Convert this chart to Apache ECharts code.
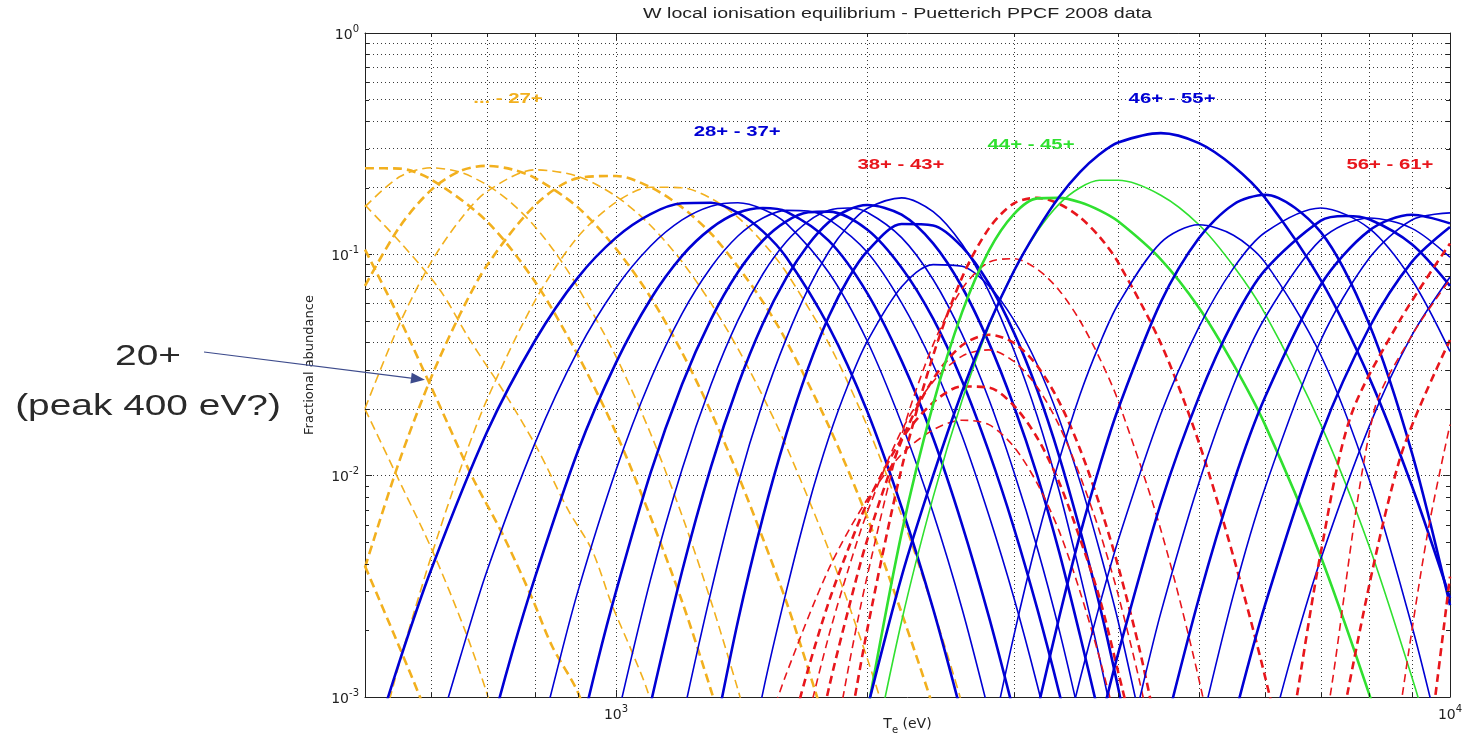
<!DOCTYPE html>
<html>
<head>
<meta charset="utf-8">
<title>W local ionisation equilibrium</title>
<script src="https://cdn.jsdelivr.net/npm/echarts@6.0.0/dist/echarts.min.js"></script>
<style>
html, body { margin: 0; padding: 0; background: #ffffff; }
#chart { width: 1463px; height: 741px; }
</style>
</head>
<body>
<div id="chart"></div>
<script>
// Axis ranges: electron temperature (eV) and fractional abundance
const TE_RANGE = [500, 10000];
const AB_RANGE = [0.001, 1];

// Dotted grid (major + minor decades)
const xGridValues = [600, 700, 800, 900, 1000, 2000, 3000, 4000, 5000, 6000, 7000, 8000, 9000];
const yGridValues = [0.002, 0.003, 0.004, 0.005, 0.006, 0.007, 0.008, 0.009, 0.01,
  0.02, 0.03, 0.04, 0.05, 0.06, 0.07, 0.08, 0.09, 0.1,
  0.2, 0.3, 0.4, 0.5, 0.6, 0.7, 0.8, 0.9];
const xMinorTicks = [600, 700, 800, 900, 2000, 3000, 4000, 5000, 6000, 7000, 8000, 9000];
const yMinorTicks = [0.002, 0.003, 0.004, 0.005, 0.006, 0.007, 0.008, 0.009,
  0.02, 0.03, 0.04, 0.05, 0.06, 0.07, 0.08, 0.09,
  0.2, 0.3, 0.4, 0.5, 0.6, 0.7, 0.8, 0.9];

// Fractional abundance of each W ion charge state: [Te (eV), abundance]
const w18 = [[500,0.0039],[582,0.001],[600,0.0007]];
const w19 = [[500,0.02],[554,0.0089],[602,0.0046],[659,0.002],[700,0.00104],[720,0.0007]];
const w20 = [[500,0.105],[551,0.0506],[610,0.022],[672,0.0099],[730,0.0055],[793,0.0028],[838,0.0017],[900,0.00105],[930,0.0007]];
const w21 = [[500,0.167],[555,0.11],[615,0.069],[668,0.041],[740,0.0227],[806,0.0131],[876,0.007],[936,0.0046],[989,0.0026],[1045,0.0016],[1092,0.00105],[1120,0.0007]];
const w22 = [[500,0.245],[550,0.244],[600,0.218],[700,0.141],[800,0.075],[900,0.035],[1000,0.0156],[1100,0.0065],[1200,0.0027],[1300,0.00107],[1400,0.00042]];
const w23 = [[500,0.164],[550,0.224],[600,0.246],[650,0.235],[700,0.206],[750,0.17],[800,0.133],[850,0.099],[900,0.071],[1000,0.0345],[1100,0.0155],[1200,0.0066],[1300,0.0027],[1400,0.00108],[1500,0.00043]];
const w24 = [[500,0.072],[550,0.133],[600,0.195],[650,0.238],[700,0.251],[750,0.242],[800,0.221],[900,0.163],[1000,0.106],[1100,0.064],[1200,0.036],[1300,0.0194],[1400,0.0101],[1500,0.0052],[1600,0.0027],[1700,0.00134],[1800,0.00067]];
const w25 = [[500,0.0201],[550,0.0485],[600,0.092],[650,0.143],[700,0.192],[800,0.241],[900,0.225],[1000,0.183],[1100,0.135],[1200,0.0925],[1300,0.06],[1400,0.0375],[1500,0.0228],[1600,0.0136],[1800,0.0046],[2000,0.0015],[2200,0.00048]];
const w26 = [[500,0.00385],[550,0.0117],[600,0.0277],[650,0.0536],[700,0.089],[800,0.167],[900,0.221],[1000,0.226],[1100,0.201],[1200,0.163],[1300,0.124],[1400,0.088],[1500,0.061],[1600,0.0407],[1800,0.0167],[2000,0.0065],[2200,0.0024],[2400,0.0009],[2600,0.00033]];
const w27 = [[500,0.00036],[550,0.00143],[600,0.0043],[650,0.0106],[700,0.022],[800,0.062],[900,0.12],[1000,0.172],[1100,0.201],[1200,0.2],[1300,0.179],[1400,0.147],[1500,0.113],[1600,0.083],[1800,0.0394],[2000,0.0168],[2200,0.0066],[2400,0.0025],[2600,0.00093],[2800,0.00033]];

const w28 = [[500,0.00046],[550,0.00145],[600,0.00375],[700,0.0157],[800,0.0409],[900,0.0785],[1000,0.119],[1100,0.152],[1200,0.17],[1300,0.171],[1400,0.154],[1500,0.127],[1600,0.097],[1800,0.047],[2000,0.0196],[2200,0.0072],[2400,0.0025],[2600,0.00082]];
const w29 = [[600,0.00054],[650,0.0015],[700,0.0037],[800,0.0141],[900,0.0367],[1000,0.0706],[1100,0.109],[1200,0.143],[1300,0.165],[1400,0.171],[1500,0.16],[1600,0.138],[1800,0.0826],[2000,0.0407],[2200,0.0172],[2400,0.0068],[2600,0.0025],[2800,0.00085]];
const w30 = [[650,0.00019],[700,0.0006],[750,0.00157],[800,0.0035],[900,0.0129],[1000,0.0324],[1100,0.0627],[1200,0.0984],[1300,0.131],[1400,0.154],[1500,0.162],[1600,0.156],[1800,0.115],[2000,0.067],[2200,0.033],[2400,0.0148],[2600,0.006],[2800,0.0023],[3000,0.00085]];
const w31 = [[750,0.00018],[800,0.00053],[850,0.00133],[900,0.003],[1000,0.0106],[1100,0.0272],[1200,0.054],[1300,0.0875],[1400,0.121],[1500,0.146],[1600,0.158],[1700,0.157],[1800,0.144],[2000,0.1025],[2200,0.0604],[2400,0.0318],[2600,0.0151],[2800,0.0066],[3000,0.0028],[3200,0.00113],[3400,0.00044]];
const w32 = [[850,0.00022],[900,0.00061],[950,0.00144],[1000,0.003],[1100,0.0103],[1200,0.0259],[1300,0.051],[1400,0.083],[1500,0.1155],[1600,0.141],[1700,0.155],[1800,0.156],[2000,0.1295],[2200,0.087],[2400,0.0512],[2600,0.0268],[2800,0.0128],[3000,0.0058],[3200,0.0025],[3400,0.00104],[3600,0.00042]];
const w33 = [[950,0.00031],[1000,0.00076],[1100,0.0034],[1200,0.0107],[1300,0.0258],[1400,0.0503],[1500,0.0815],[1600,0.114],[1700,0.141],[1800,0.158],[1900,0.162],[2000,0.155],[2200,0.119],[2400,0.077],[2600,0.0435],[2800,0.0221],[3000,0.0104],[3200,0.0047],[3400,0.002],[3600,0.0008]];
const w34 = [[1050,0.00041],[1100,0.00093],[1200,0.0037],[1300,0.011],[1400,0.0256],[1500,0.0487],[1600,0.0782],[1700,0.1105],[1800,0.14],[1900,0.159],[2000,0.167],[2200,0.151],[2400,0.112],[2600,0.071],[2800,0.0398],[3000,0.0206],[3200,0.01],[3400,0.0045],[3600,0.0019],[3800,0.00081]];
const w35 = [[1150,0.00035],[1200,0.00078],[1300,0.003],[1400,0.0091],[1500,0.0215],[1600,0.0416],[1700,0.07],[1800,0.103],[1900,0.135],[2000,0.161],[2200,0.18],[2400,0.156],[2600,0.111],[2800,0.0678],[3000,0.0369],[3200,0.0185],[3400,0.0085],[3600,0.0036],[3800,0.0015],[4000,0.0006]];
const w36 = [[1300,0.00056],[1400,0.0022],[1500,0.0065],[1600,0.0154],[1700,0.0307],[1800,0.0525],[1900,0.078],[2000,0.103],[2200,0.137],[2400,0.135],[2600,0.108],[2800,0.0736],[3000,0.0443],[3200,0.0243],[3400,0.0122],[3600,0.0057],[3800,0.0026],[4000,0.0011],[4250,0.00036]];
const w37 = [[1400,0.00028],[1500,0.00105],[1600,0.003],[1700,0.0073],[1800,0.0149],[1900,0.026],[2000,0.0403],[2200,0.0714],[2400,0.0898],[2600,0.0883],[2800,0.0719],[3000,0.0504],[3200,0.0317],[3400,0.018],[3600,0.0094],[3800,0.0046],[4000,0.0022],[4250,0.00079]];

const w38 = [[1900,0.00068],[2000,0.002],[2200,0.0108],[2400,0.0349],[2600,0.0787],[2800,0.131],[3000,0.17],[3200,0.18],[3400,0.169],[3600,0.147],[3800,0.12],[4000,0.092],[4500,0.0396],[5000,0.0141],[5500,0.0043],[6000,0.00124],[6500,0.00033]];
const w39 = [[1800,0.00044],[1900,0.00136],[2000,0.0035],[2200,0.0152],[2400,0.0391],[2600,0.0699],[2800,0.0922],[3000,0.0955],[3200,0.0856],[3400,0.0687],[3600,0.0501],[3800,0.034],[4000,0.0218],[4500,0.0057],[5000,0.0012],[5500,0.00021]];
const w40 = [[1700,0.0004],[1800,0.0011],[1900,0.0025],[2000,0.0051],[2200,0.0144],[2400,0.0273],[2600,0.0388],[2800,0.0433],[3000,0.0398],[3200,0.0313],[3400,0.0215],[3600,0.0132],[3800,0.0074],[4000,0.0039],[4250,0.0016],[4500,0.00058]];
const w41 = [[1600,0.0003],[1700,0.00081],[1800,0.0019],[1900,0.0038],[2000,0.0068],[2200,0.016],[2400,0.0266],[2600,0.0347],[2800,0.037],[3000,0.0328],[3200,0.0251],[3400,0.0168],[3600,0.01],[3800,0.0056],[4000,0.0029],[4250,0.00115],[4500,0.00042]];
const w42 = [[1600,0.00058],[1700,0.00134],[1800,0.0027],[1900,0.0047],[2000,0.0075],[2200,0.0146],[2400,0.0214],[2600,0.0253],[2800,0.025],[3000,0.0207],[3200,0.0148],[3400,0.0093],[3600,0.0052],[3800,0.0028],[4000,0.0013],[4250,0.00051]];
const w43 = [[1500,0.00063],[1600,0.00127],[1800,0.0038],[2000,0.0078],[2200,0.0125],[2400,0.0161],[2600,0.0178],[2800,0.017],[3000,0.0135],[3200,0.0092],[3400,0.0056],[3600,0.003],[3800,0.0015],[4000,0.00071]];

const w44 = [[2000,0.00084],[2200,0.0055],[2400,0.021],[2600,0.0548],[2800,0.104],[3000,0.152],[3200,0.179],[3400,0.18],[3600,0.172],[3800,0.158],[4000,0.141],[4500,0.095],[5000,0.0574],[5500,0.0318],[6000,0.017],[7000,0.0043],[8000,0.00103],[8500,0.0005]];
const w45 = [[2000,0.0004],[2200,0.0022],[2400,0.008],[2600,0.0219],[2800,0.0475],[3000,0.0844],[3200,0.127],[3400,0.169],[3600,0.2],[3800,0.216],[4000,0.216],[4500,0.185],[5000,0.136],[5500,0.0885],[6000,0.054],[7000,0.017],[8000,0.0048],[9000,0.00123],[9500,0.00062]];

const w46 = [[2000,0.00088],[2200,0.0035],[2400,0.01],[2600,0.024],[2800,0.0483],[3000,0.0841],[3200,0.129],[3400,0.182],[3600,0.235],[3800,0.283],[4000,0.32],[4500,0.353],[5000,0.318],[5500,0.25],[6000,0.18],[7000,0.0765],[8000,0.0278],[9000,0.009],[10000,0.0028]];
const w47 = [[2800,0.00057],[3000,0.0019],[3200,0.0052],[3400,0.0118],[3600,0.0232],[3800,0.0393],[4000,0.0595],[4500,0.113],[5000,0.136],[5500,0.122],[6000,0.092],[7000,0.035],[8000,0.0096],[9000,0.0021],[9500,0.00094],[10000,0.00041]];
const w48 = [[3200,0.00087],[3400,0.0023],[3600,0.0054],[3800,0.011],[4000,0.02],[4500,0.0608],[5000,0.1185],[5500,0.168],[6000,0.186],[7000,0.126],[8000,0.0484],[9000,0.0127],[10000,0.0026]];
const w49 = [[3400,0.0005],[3600,0.0012],[3800,0.0026],[4000,0.0051],[4500,0.019],[5000,0.0469],[5500,0.0866],[6000,0.1255],[7000,0.162],[8000,0.131],[9000,0.0768],[10000,0.0364]];
const w50 = [[3800,0.00073],[4000,0.00157],[4500,0.0075],[5000,0.0227],[5500,0.0502],[6000,0.0848],[7000,0.142],[7500,0.149],[8000,0.144],[9000,0.111],[10000,0.072]];
const w51 = [[4000,0.00037],[4250,0.001],[4500,0.0024],[5000,0.0093],[5500,0.0256],[6000,0.0517],[7000,0.1165],[8000,0.146],[9000,0.131],[10000,0.097]];
const w52 = [[4500,0.0006],[5000,0.0028],[5500,0.0093],[6000,0.0226],[7000,0.0729],[8000,0.128],[9000,0.151],[10000,0.138]];
const w53 = [[5000,0.00067],[5500,0.0029],[6000,0.0088],[7000,0.0409],[8000,0.096],[9000,0.143],[10000,0.154]];
const w54 = [[5500,0.00078],[6000,0.0026],[7000,0.0152],[8000,0.0466],[9000,0.0925],[10000,0.133]];
const w55 = [[6000,0.00055],[6500,0.00168],[7000,0.0042],[8000,0.0167],[9000,0.043],[10000,0.079]];

const w56 = [[6300,0.0004],[6550,0.001],[7000,0.0045],[7600,0.0185],[8700,0.05],[10000,0.112]];
const w57 = [[6900,0.0004],[7180,0.001],[8100,0.0193],[9000,0.043],[10000,0.077]];
const w58 = [[7300,0.0004],[7520,0.001],[8700,0.0118],[10000,0.041]];
const w59 = [[8500,0.0004],[8760,0.001],[9400,0.0055],[10000,0.017]];
const w60 = [[9300,0.0004],[9600,0.001],[10000,0.0035]];
const w61 = [[9800,0.0004],[10000,0.0009]];

// Charge-state bands, each with its colour and line style
const ORANGE = '#f2b01e', BLUE = '#0000d4', RED = '#e8161c', GREEN = '#30e030';
const bands = [
  { first: 18, ions: [w18, w19, w20, w21, w22, w23, w24, w25, w26, w27], color: ORANGE, dash: [9, 5] },
  { first: 28, ions: [w28, w29, w30, w31, w32, w33, w34, w35, w36, w37], color: BLUE, dash: null },
  { first: 38, ions: [w38, w39, w40, w41, w42, w43], color: RED, dash: [8, 5] },
  { first: 44, ions: [w44, w45], color: GREEN, dash: null },
  { first: 46, ions: [w46, w47, w48, w49, w50, w51, w52, w53, w54, w55], color: BLUE, dash: null },
  { first: 56, ions: [w56, w57, w58, w59, w60, w61], color: RED, dash: [8, 5] }
];

// Band captions placed at [Te, abundance]
const bandLabels = [
  { text: '... - 27+', te: 742, ab: 0.504, color: ORANGE },
  { text: '28+ - 37+', te: 1397, ab: 0.357, color: BLUE },
  { text: '38+ - 43+', te: 2196, ab: 0.2535, color: RED },
  { text: '44+ - 45+', te: 3145, ab: 0.312, color: GREEN },
  { text: '46+ - 55+', te: 4642, ab: 0.504, color: BLUE },
  { text: '56+ - 61+', te: 8472, ab: 0.2535, color: RED }
];
// Point on the 20+ curve the side note refers to
const noteTarget = [590, 0.0271];

const TXT = '#222222';
const supRich = {
  b: { fontFamily: 'DejaVu Sans', fontSize: 14, color: TXT, verticalAlign: 'bottom' },
  s: { fontFamily: 'DejaVu Sans', fontSize: 10, color: TXT, verticalAlign: 'bottom', padding: [0, 0, 8, 0] }
};
function powLabel(v) {
  const e = Math.log10(v), r = Math.round(e);
  return Math.abs(e - r) < 1e-6 ? '{b|10}{s|' + r + '}' : '';
}

const series = [];
// dotted grid lines, kept underneath the curves
series.push({
  type: 'line', data: [], silent: true, z: 1,
  markLine: {
    silent: true, symbol: ['none', 'none'], label: { show: false }, animation: false, z: 1,
    lineStyle: { color: '#3a3a3a', width: 1, type: [1, 3] },
    emphasis: { disabled: true },
    data: xGridValues.map(v => ({ xAxis: v })).concat(yGridValues.map(v => ({ yAxis: v })))
  }
});
bands.forEach(band => {
  band.ions.forEach((pts, i) => {
    const z = band.first + i;
    series.push({
      name: 'W' + z + '+', type: 'line', data: pts, symbol: 'none', showSymbol: false,
      smooth: 0.3, clip: true, silent: true, z: 3,
      lineStyle: {
        color: band.color, width: (z % 2 === 0) ? 2.6 : 1.6,
        type: band.dash ? band.dash : 'solid', cap: 'butt'
      }
    });
  });
});

function frameAxis(position, showLabel) {
  return {
    type: 'log', logBase: 10, position: position,
    axisLine: { show: true, onZero: false, lineStyle: { color: TXT, width: 1 } },
    axisTick: { show: true, inside: true, length: 7, lineStyle: { color: TXT, width: 1 } },
    axisLabel: showLabel ? { show: true, interval: 0, formatter: powLabel, rich: supRich, color: TXT } : { show: false },
    splitLine: { show: false },
    minorTick: { show: false }
  };
}
const xBottom = Object.assign(frameAxis('bottom', true), {
  min: TE_RANGE[0], max: TE_RANGE[1],
  name: '{b|T}{s|e}{b| (eV)}', nameLocation: 'middle', nameGap: 20, nameMoveOverlap: false,
  nameTextStyle: {
    rich: {
      b: { fontFamily: 'DejaVu Sans', fontSize: 14, color: TXT, verticalAlign: 'top' },
      s: { fontFamily: 'DejaVu Sans', fontSize: 10, color: TXT, verticalAlign: 'top', padding: [8, 0, 0, 0] }
    }
  }
});
xBottom.axisLabel.margin = 7;
const xTop = Object.assign(frameAxis('top', false), { min: TE_RANGE[0], max: TE_RANGE[1] });
const yLeft = Object.assign(frameAxis('left', true), {
  min: AB_RANGE[0], max: AB_RANGE[1],
  name: 'Fractional abundance', nameLocation: 'middle', nameGap: 49, nameRotate: 90, nameMoveOverlap: false,
  nameTextStyle: { fontFamily: 'DejaVu Sans', fontSize: 13, color: TXT }
});
yLeft.axisLabel.margin = 6;
const yRight = Object.assign(frameAxis('right', false), { min: AB_RANGE[0], max: AB_RANGE[1] });

const chart = echarts.init(document.getElementById('chart'), null, { renderer: 'canvas' });
chart.setOption({
  backgroundColor: '#ffffff',
  animation: false,
  grid: { left: 365, top: 33, width: 1085, height: 664, show: false, containLabel: false, outerBoundsMode: 'none' },
  xAxis: [xBottom, xTop],
  yAxis: [yLeft, yRight],
  series: series
});

// Minor ticks, captions, title and side note positioned from the axes
const xL = chart.convertToPixel({ xAxisIndex: 0 }, TE_RANGE[0]);
const xR = chart.convertToPixel({ xAxisIndex: 0 }, TE_RANGE[1]);
const yB = chart.convertToPixel({ yAxisIndex: 0 }, AB_RANGE[0]);
const yT = chart.convertToPixel({ yAxisIndex: 0 }, AB_RANGE[1]);
const els = [];
function seg(a, b, c, d, color, w) {
  return { type: 'line', silent: true, z: 50, shape: { x1: a, y1: b, x2: c, y2: d }, style: { stroke: color, lineWidth: w } };
}
xMinorTicks.forEach(v => {
  const px = Math.round(chart.convertToPixel({ xAxisIndex: 0 }, v)) + 0.5;
  els.push(seg(px, yB, px, yB - 4, TXT, 1), seg(px, yT, px, yT + 4, TXT, 1));
});
yMinorTicks.forEach(v => {
  const py = Math.round(chart.convertToPixel({ yAxisIndex: 0 }, v)) + 0.5;
  els.push(seg(xL, py, xL + 4, py, TXT, 1), seg(xR, py, xR - 4, py, TXT, 1));
});
bandLabels.forEach(l => {
  const p = chart.convertToPixel({ gridIndex: 0 }, [l.te, l.ab]);
  els.push({
    type: 'text', x: p[0], y: p[1], scaleX: 1.45, silent: true, z: 60,
    style: {
      text: l.text, fill: l.color, font: 'bold 14px "Liberation Sans", Arial, sans-serif',
      textAlign: 'center', textVerticalAlign: 'middle', align: 'center', verticalAlign: 'middle'
    }
  });
});
// title
els.push({
  type: 'text', x: (xL + xR) / 2 - 10, y: 14, scaleX: 1.4, silent: true, z: 60,
  style: {
    text: 'W local ionisation equilibrium - Puetterich PPCF 2008 data', fill: TXT,
    font: '14px "Liberation Sans", Arial, sans-serif',
    textAlign: 'center', textVerticalAlign: 'middle', align: 'center', verticalAlign: 'middle'
  }
});
// side note with arrow onto the 20+ curve
const noteFont = '29px "Liberation Sans", Arial, sans-serif';
els.push({
  type: 'text', x: 148, y: 357, scaleX: 1.34, silent: true, z: 60,
  style: { text: '20+', fill: '#2a2a2a', font: noteFont, textAlign: 'center', textVerticalAlign: 'middle', align: 'center', verticalAlign: 'middle' }
});
els.push({
  type: 'text', x: 148, y: 407, scaleX: 1.34, silent: true, z: 60,
  style: { text: '(peak 400 eV?)', fill: '#2a2a2a', font: noteFont, textAlign: 'center', textVerticalAlign: 'middle', align: 'center', verticalAlign: 'middle' }
});
const tip = chart.convertToPixel({ gridIndex: 0 }, noteTarget);
const start = [204, 352];
const dx = tip[0] - start[0], dy = tip[1] - start[1];
const len = Math.sqrt(dx * dx + dy * dy), ux = dx / len, uy = dy / len;
const headL = 14, headW = 5.5;
const bx = tip[0] - ux * headL, by = tip[1] - uy * headL;
const ARROW = '#3d4b8c';
els.push(seg(start[0], start[1], bx, by, ARROW, 1.1));
els.push({
  type: 'polygon', silent: true, z: 60,
  shape: { points: [[tip[0], tip[1]], [bx - uy * headW, by + ux * headW], [bx + uy * headW, by - ux * headW]] },
  style: { fill: ARROW }
});
chart.setOption({ graphic: { elements: els } });
</script>
</body>
</html>
